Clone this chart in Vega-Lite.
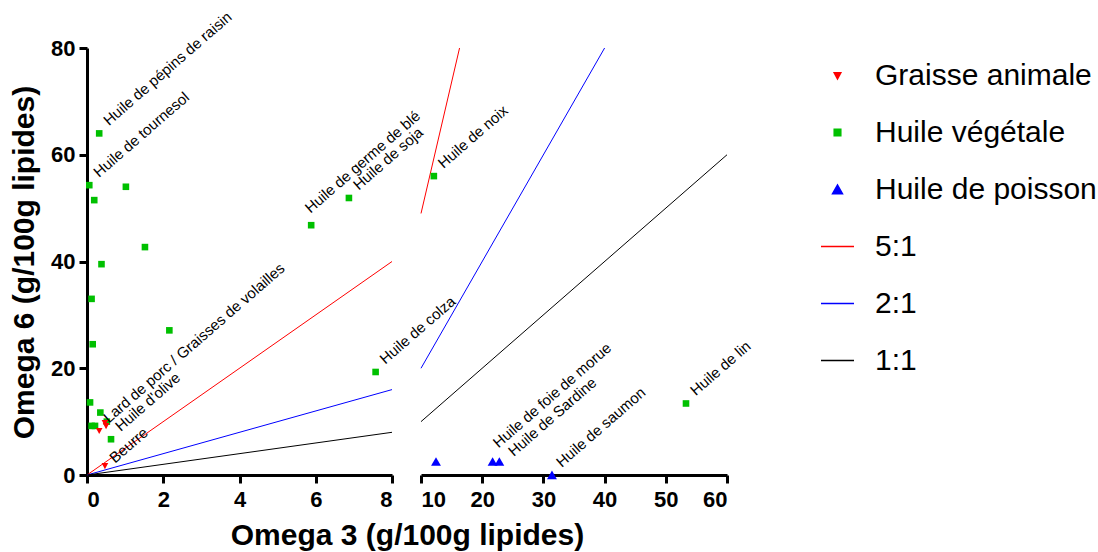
{
  "$schema": "https://vega.github.io/schema/vega-lite/v6.json",
  "autosize": {"type": "none"},
  "padding": {"left": 87, "top": 48, "right": 1011, "bottom": 504},
  "bounds": "flush",
  "spacing": 29,
  "background": "white",
  "config": {
    "view": {"stroke": null},
    "axis": {
      "domainColor": "black", "domainWidth": 3, "tickColor": "black", "tickWidth": 3, "tickSize": 8,
      "labelFont": "Liberation Sans", "labelFontWeight": "bold", "labelFontSize": 22, "labelColor": "black",
      "titleFont": "Liberation Sans", "titleFontWeight": "bold", "titleFontSize": 30, "titleColor": "black",
      "grid": false, "labelPadding": 4
    },
    "legend": {
      "orient": "none", "legendX": 733, "legendY": 10, "padding": 0, "offset": 0,
      "symbolSize": 1089, "labelFont": "Liberation Sans", "labelFontSize": 30, "labelColor": "black",
      "labelOffset": 20, "rowPadding": 24, "labelLimit": 500
    }
  },
  "datasets": {
    "pts": [
      {"series": "Huile végétale", "omega3": 0.32, "omega6": 64.0, "label": "Huile de pépins de raisin"},
      {"series": "Huile végétale", "omega3": 0.06, "omega6": 54.3, "label": "Huile de tournesol"},
      {"series": "Huile végétale", "omega3": 0.19, "omega6": 51.5, "label": ""},
      {"series": "Huile végétale", "omega3": 1.02, "omega6": 54.0, "label": ""},
      {"series": "Huile végétale", "omega3": 1.52, "omega6": 42.7, "label": ""},
      {"series": "Huile végétale", "omega3": 0.38, "omega6": 39.5, "label": ""},
      {"series": "Huile végétale", "omega3": 5.88, "omega6": 46.8, "label": "Huile de germe de blé"},
      {"series": "Huile végétale", "omega3": 6.87, "omega6": 51.9, "label": "Huile de soja"},
      {"series": "Huile végétale", "omega3": 0.12, "omega6": 33.0, "label": ""},
      {"series": "Huile végétale", "omega3": 0.15, "omega6": 24.5, "label": ""},
      {"series": "Huile végétale", "omega3": 2.16, "omega6": 27.1, "label": ""},
      {"series": "Huile végétale", "omega3": 7.57, "omega6": 19.3, "label": "Huile de colza"},
      {"series": "Huile végétale", "omega3": 0.08, "omega6": 13.6, "label": ""},
      {"series": "Huile végétale", "omega3": 0.35, "omega6": 11.7, "label": ""},
      {"series": "Huile végétale", "omega3": 0.12, "omega6": 9.2, "label": ""},
      {"series": "Huile végétale", "omega3": 0.21, "omega6": 9.2, "label": ""},
      {"series": "Huile végétale", "omega3": 0.52, "omega6": 10.0, "label": ""},
      {"series": "Huile végétale", "omega3": 0.63, "omega6": 6.7, "label": "Huile d'olive"},
      {"series": "Huile végétale", "omega3": 12.1, "omega6": 56.0, "label": "Huile de noix"},
      {"series": "Huile végétale", "omega3": 53.3, "omega6": 13.4, "label": "Huile de lin"},
      {"series": "Graisse animale", "omega3": 0.32, "omega6": 8.3, "label": "Lard de porc / Graisses de volailles"},
      {"series": "Graisse animale", "omega3": 0.47, "omega6": 9.8, "label": ""},
      {"series": "Graisse animale", "omega3": 0.5, "omega6": 9.2, "label": ""},
      {"series": "Graisse animale", "omega3": 0.47, "omega6": 1.7, "label": "Beurre"},
      {"series": "Huile de poisson", "omega3": 12.45, "omega6": 2.5, "label": ""},
      {"series": "Huile de poisson", "omega3": 21.7, "omega6": 2.5, "label": "Huile de foie de morue"},
      {"series": "Huile de poisson", "omega3": 22.8, "omega6": 2.5, "label": "Huile de Sardine"},
      {"series": "Huile de poisson", "omega3": 31.4, "omega6": 0.0, "label": "Huile de saumon"}
    ],
    "ratios": [
      {"series": "5:1", "omega3": 0, "omega6": 0},
      {"series": "5:1", "omega3": 8, "omega6": 40},
      {"series": "5:1", "omega3": 10, "omega6": 49},
      {"series": "5:1", "omega3": 16.3, "omega6": 80},
      {"series": "2:1", "omega3": 0, "omega6": 0},
      {"series": "2:1", "omega3": 8, "omega6": 16},
      {"series": "2:1", "omega3": 10, "omega6": 20},
      {"series": "2:1", "omega3": 40, "omega6": 80},
      {"series": "1:1", "omega3": 0, "omega6": 0},
      {"series": "1:1", "omega3": 8, "omega6": 8},
      {"series": "1:1", "omega3": 10, "omega6": 10},
      {"series": "1:1", "omega3": 60, "omega6": 60}
    ]
  },
  "hconcat": [
    {
      "width": 305,
      "height": 427,
      "encoding": {
        "x": {"field": "omega3", "type": "quantitative", "scale": {"domain": [0, 8], "nice": false, "zero": false},
              "axis": {"values": [0, 2, 4, 6, 8], "title": "Omega 3 (g/100g lipides)", "labelPadding": 6,
                       "titleX": 320, "titleY": 69, "titleAlign": "center", "titleBaseline": "alphabetic", "titleAngle": 0}},
        "y": {"field": "omega6", "type": "quantitative", "scale": {"domain": [0, 80], "nice": false},
              "axis": {"values": [0, 20, 40, 60, 80], "title": "Omega 6 (g/100g lipides)",
                       "titleX": -54, "titleY": 214, "titleAngle": 270, "titleAlign": "center", "titleBaseline": "alphabetic"}}
      },
      "layer": [
        {
          "data": {"name": "ratios"},
          "transform": [{"filter": "datum.omega3 <= 8"}],
          "mark": {"type": "line", "strokeWidth": 1},
          "encoding": {
            "color": {"field": "series", "type": "nominal",
              "scale": {"domain": ["Graisse animale", "Huile végétale", "Huile de poisson", "5:1", "2:1", "1:1"],
                        "range": ["#ff0000", "#00c000", "#0000ff", "#ff0000", "#0000ff", "#000000"]}}
          }
        },
        {
          "data": {"name": "pts"},
          "transform": [{"filter": "datum.omega3 <= 8"}],
          "mark": {"type": "point", "filled": true, "opacity": 1, "size": 1089},
          "encoding": {
            "color": {"field": "series", "type": "nominal",
              "scale": {"domain": ["Graisse animale", "Huile végétale", "Huile de poisson", "5:1", "2:1", "1:1"],
                        "range": ["#ff0000", "#00c000", "#0000ff", "#ff0000", "#0000ff", "#000000"]},
              "legend": {"title": null,
                "encode": {"symbols": {"update": {"stroke": {"scale": "color", "field": "value"}, "strokeWidth": {"value": 1}, "size": {"value": 1089}, "opacity": {"value": 1}}}}}},
            "shape": {"field": "series", "type": "nominal",
              "scale": {"domain": ["Graisse animale", "Huile végétale", "Huile de poisson", "5:1", "2:1", "1:1"],
                        "range": ["M-0.2,-0.17L0.2,-0.17L0,0.2Z", "M-0.2,-0.2H0.2V0.2H-0.2Z", "M-0.3,0.25L0.3,0.25L0,-0.27Z", "M-1,0H1", "M-1,0H1", "M-1,0H1"]},
              "legend": {"title": null}}
          }
        },
        {
          "data": {"name": "pts"},
          "transform": [{"filter": "datum.omega3 <= 8 && datum.label != '' && datum.label != 'Huile de germe de blé' && datum.label != 'Beurre'"}],
          "mark": {"type": "text", "angle": 319, "align": "left", "baseline": "alphabetic", "dx": 12, "dy": 1, "font": "Liberation Sans", "fontSize": 15, "color": "black"},
          "encoding": {"text": {"field": "label"}}
        },
        {
          "data": {"name": "pts"},
          "transform": [{"filter": "datum.label == 'Huile de germe de blé'"}],
          "mark": {"type": "text", "angle": 319, "align": "left", "baseline": "alphabetic", "dx": 7, "dy": -9, "font": "Liberation Sans", "fontSize": 15, "color": "black"},
          "encoding": {"text": {"field": "label"}}
        },
        {
          "data": {"name": "pts"},
          "transform": [{"filter": "datum.label == 'Beurre'"}],
          "mark": {"type": "text", "angle": 319, "align": "left", "baseline": "alphabetic", "dx": 9, "dy": 5, "font": "Liberation Sans", "fontSize": 15, "color": "black"},
          "encoding": {"text": {"field": "label"}}
        },
        {
          "data": {"values": [{}]},
          "mark": {"type": "point", "shape": "M-1,1L1,-1", "size": 225, "filled": false, "stroke": "black", "strokeWidth": 3, "opacity": 1},
          "encoding": {"x": {"datum": 8}, "y": {"datum": 0}}
        }
      ]
    },
    {
      "width": 306,
      "height": 427,
      "encoding": {
        "x": {"field": "omega3", "type": "quantitative", "scale": {"domain": [10, 60], "nice": false, "zero": false},
              "axis": {"values": [10, 20, 30, 40, 50, 60], "title": null, "labelPadding": 6}},
        "y": {"field": "omega6", "type": "quantitative", "scale": {"domain": [0, 80], "nice": false}, "axis": null}
      },
      "layer": [
        {
          "data": {"name": "ratios"},
          "transform": [{"filter": "datum.omega3 >= 10"}],
          "mark": {"type": "line", "strokeWidth": 1},
          "encoding": {"color": {"field": "series", "type": "nominal"}}
        },
        {
          "data": {"name": "pts"},
          "transform": [{"filter": "datum.omega3 >= 10"}],
          "mark": {"type": "point", "filled": true, "opacity": 1, "size": 1089},
          "encoding": {
            "color": {"field": "series", "type": "nominal"},
            "shape": {"field": "series", "type": "nominal"}
          }
        },
        {
          "data": {"name": "pts"},
          "transform": [{"filter": "datum.omega3 >= 10 && datum.label != '' && datum.label != 'Huile de foie de morue' && datum.label != 'Huile de Sardine'"}],
          "mark": {"type": "text", "angle": 319, "align": "left", "baseline": "alphabetic", "dx": 12, "dy": 1, "font": "Liberation Sans", "fontSize": 15, "color": "black"},
          "encoding": {"text": {"field": "label"}}
        },
        {
          "data": {"name": "pts"},
          "transform": [{"filter": "datum.label == 'Huile de foie de morue'"}],
          "mark": {"type": "text", "angle": 319, "align": "left", "baseline": "alphabetic", "dx": 13, "dy": -6, "font": "Liberation Sans", "fontSize": 15, "color": "black"},
          "encoding": {"text": {"field": "label"}}
        },
        {
          "data": {"name": "pts"},
          "transform": [{"filter": "datum.label == 'Huile de Sardine'"}],
          "mark": {"type": "text", "angle": 319, "align": "left", "baseline": "alphabetic", "dx": 14, "dy": 6, "font": "Liberation Sans", "fontSize": 15, "color": "black"},
          "encoding": {"text": {"field": "label"}}
        },
        {
          "data": {"values": [{}]},
          "mark": {"type": "point", "shape": "M-1,1L1,-1", "size": 225, "filled": false, "stroke": "black", "strokeWidth": 3, "opacity": 1},
          "encoding": {"x": {"datum": 10}, "y": {"datum": 0}}
        }
      ]
    }
  ]
}
